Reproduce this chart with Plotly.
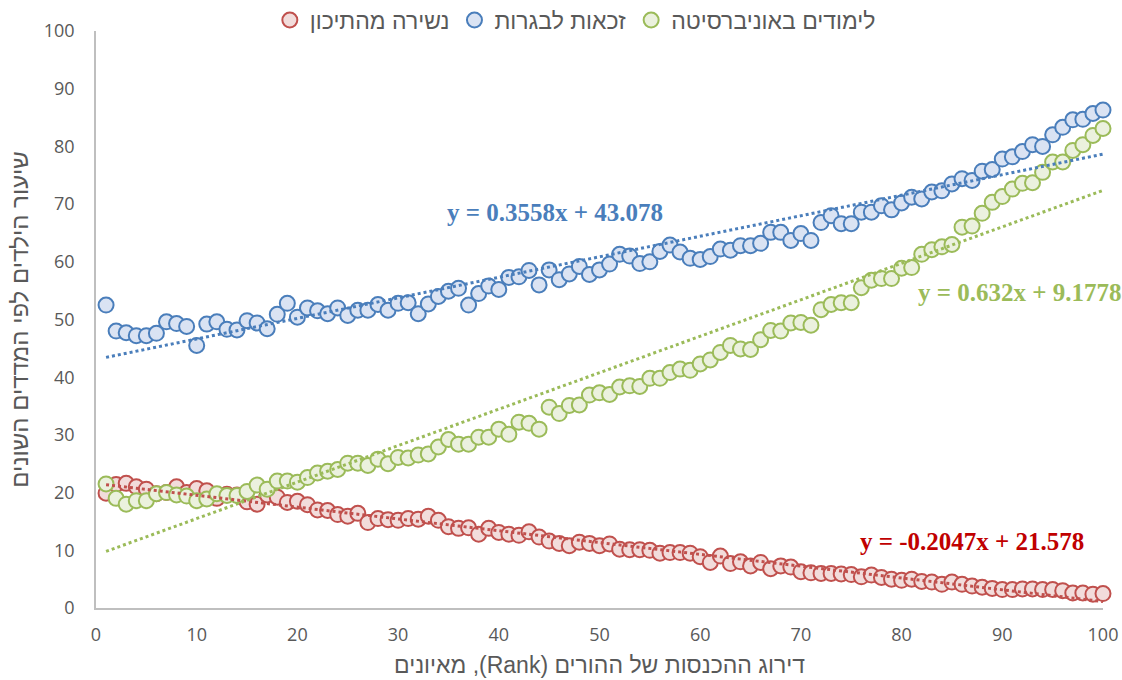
import plotly.graph_objects as go

rank = list(range(1, 101))

bagrut = [52.5, 48.0, 47.7, 47.2, 47.2, 47.6, 49.6, 49.3, 48.8, 45.5,
          49.2, 49.6, 48.3, 48.2, 49.8, 49.4, 48.4, 50.9, 52.8, 50.4,
          52.0, 51.5, 51.0, 52.0, 50.7, 51.6, 51.6, 52.6, 51.6, 52.8,
          52.9, 51.0, 52.7, 54.0, 54.9, 55.4, 52.5, 54.5, 55.8, 55.2,
          57.3, 57.4, 58.5, 56.0, 58.6, 56.9, 57.9, 59.2, 57.8, 58.6,
          59.6, 61.3, 61.0, 59.7, 60.0, 61.8, 62.9, 61.7, 60.6, 60.4,
          60.9, 62.2, 62.0, 62.8, 62.8, 63.2, 65.1, 65.1, 63.7, 64.9,
          63.7, 66.8, 68.0, 66.6, 66.6, 68.6, 68.6, 69.7, 69.0, 70.2,
          71.2, 70.9, 72.1, 72.3, 73.5, 74.4, 74.1, 75.7, 76.0, 77.8,
          78.2, 79.1, 80.3, 80.0, 82.0, 83.3, 84.6, 84.7, 85.7, 86.3]

university = [21.5, 19.0, 18.0, 18.6, 18.6, 19.8, 20.0, 19.6, 19.4, 18.6,
              18.9, 19.8, 19.5, 19.5, 20.2, 21.3, 20.6, 22.0, 22.0, 21.8,
              22.6, 23.4, 23.7, 24.0, 25.1, 25.1, 24.7, 25.8, 25.0, 26.1,
              26.0, 26.5, 26.7, 27.9, 29.2, 28.4, 28.4, 29.6, 29.6, 31.0,
              30.1, 32.2, 32.0, 31.0, 34.8, 33.7, 35.1, 35.2, 36.9, 37.3,
              37.0, 38.3, 38.5, 38.4, 39.8, 39.8, 40.8, 41.4, 41.2, 42.3,
              43.0, 44.3, 45.5, 44.9, 44.8, 46.5, 48.1, 48.0, 49.4, 49.5,
              49.0, 51.7, 52.6, 52.9, 52.9, 55.5, 56.8, 57.1, 57.1, 58.9,
              59.0, 61.3, 62.1, 62.6, 63.0, 66.0, 66.2, 68.4, 70.3, 71.3,
              72.6, 73.6, 73.7, 75.5, 77.3, 77.3, 79.3, 80.3, 81.9, 83.1]

dropout = [19.9, 21.4, 21.6, 21.0, 20.6, 19.8, 20.0, 21.0, 20.0, 20.7,
           20.3, 19.0, 19.7, 19.6, 18.4, 18.0, 19.6, 19.2, 18.3, 18.5,
           17.9, 17.0, 16.9, 16.2, 15.9, 16.4, 14.8, 15.5, 15.3, 15.2,
           15.5, 15.4, 15.9, 15.2, 14.1, 13.8, 13.9, 12.8, 13.8, 13.1,
           12.8, 12.6, 13.2, 12.3, 11.6, 11.2, 10.8, 11.4, 11.2, 10.8,
           11.1, 10.2, 10.1, 10.1, 10.0, 9.5, 9.6, 9.6, 9.5, 8.9,
           7.9, 9.0, 7.7, 8.0, 7.3, 7.9, 6.8, 7.3, 7.1, 6.3,
           6.1, 6.0, 6.0, 5.9, 5.8, 5.4, 5.7, 5.3, 5.0, 4.8,
           5.0, 4.6, 4.5, 4.1, 4.5, 4.1, 3.8, 3.6, 3.4, 3.2,
           3.2, 3.3, 3.3, 3.2, 3.2, 3.0, 2.6, 2.6, 2.4, 2.5]

names = {"dropout": "נשירה מהתיכון", "bagrut": "זכאות לבגרות", "university": "לימודים באוניברסיטה"}
trend = {"dropout": (-0.2047, 21.578), "bagrut": (0.3558, 43.078), "university": (0.632, 9.1778)}
trend_labels = {"dropout": "y = -0.2047x + 21.578", "bagrut": "y = 0.3558x + 43.078",
                "university": "y = 0.632x + 9.1778"}
x_ticks = list(range(0, 101, 10))
y_ticks = list(range(0, 101, 10))
x_title = "דירוג ההכנסות של ההורים (Rank), מאיונים"
y_title = "שיעור הילדים לפי המדדים השונים"

styles = {
    "dropout": dict(line="#C0504D", fill="#F2DCDB", text="#C00000"),
    "bagrut": dict(line="#4A7EBB", fill="#DAE3F3", text="#4A7EBB"),
    "university": dict(line="#9BBB59", fill="#EBF1DE", text="#9BBB59"),
}
series = {"dropout": dropout, "bagrut": bagrut, "university": university}

HEB = "Liberation Sans, Arial, sans-serif"
NUM = "Open Sans, Liberation Sans, sans-serif"
RLE, PDF = "\u202B", "\u202C"

fig = go.Figure()
for key in ["dropout", "bagrut", "university"]:
    st = styles[key]
    fig.add_trace(go.Scatter(
        x=rank, y=series[key], mode="markers", name=names[key], cliponaxis=False,
        marker=dict(size=15, color=st["fill"], line=dict(color=st["line"], width=2)),
    ))
for key in ["dropout", "bagrut", "university"]:
    st = styles[key]
    a, b = trend[key]
    fig.add_trace(go.Scatter(
        x=rank, y=[a * r + b for r in rank], mode="lines", showlegend=False,
        hoverinfo="skip", cliponaxis=False,
        line=dict(color=st["line"], width=3, dash="dot"),
    ))

ann_pos = {"bagrut": (45.6, 68.5, "center"), "university": (81.4, 54.6, "left"),
           "dropout": (75.7, 11.6, "left")}
for key, (ax, ay, anc) in ann_pos.items():
    fig.add_annotation(
        x=ax, y=ay, xref="x", yref="y", text=trend_labels[key], showarrow=False,
        xanchor=anc,
        font=dict(family="Liberation Serif, Times New Roman, serif", size=25,
                  color=styles[key]["text"], weight="bold"),
    )

fig.update_layout(
    width=1122, height=680,
    margin=dict(l=96, r=19, t=31, b=72, autoexpand=False),
    paper_bgcolor="white", plot_bgcolor="white",
    font=dict(family=HEB, size=16, color="#595959"),
    legend=dict(orientation="h", x=0.476, xanchor="center", y=1.019, yanchor="middle",
                font=dict(size=23, color="#595959", family=HEB), traceorder="normal",
                itemwidth=30),
    xaxis=dict(range=[0, 100], tickvals=x_ticks, showgrid=False, zeroline=False,
               showline=True, linecolor="#BFBFBF", linewidth=1.5, ticks="",
               tickfont=dict(size=18, color="#595959", family=NUM), ticklabelstandoff=10,
               title=dict(text=RLE + x_title + PDF,
                          font=dict(size=23, color="#595959", family=HEB), standoff=12)),
    yaxis=dict(range=[0, 100], tickvals=y_ticks, showgrid=False, zeroline=False,
               showline=True, linecolor="#BFBFBF", linewidth=1.5, ticks="",
               tickfont=dict(size=18, color="#595959", family=NUM), ticklabelstandoff=16,
               title=dict(text=RLE + y_title + PDF,
                          font=dict(size=24, color="#595959", family=HEB), standoff=8)),
)

fig.write_html("out.html", config={"displayModeBar": False},
               post_script="document.body.style.margin='0px';")
